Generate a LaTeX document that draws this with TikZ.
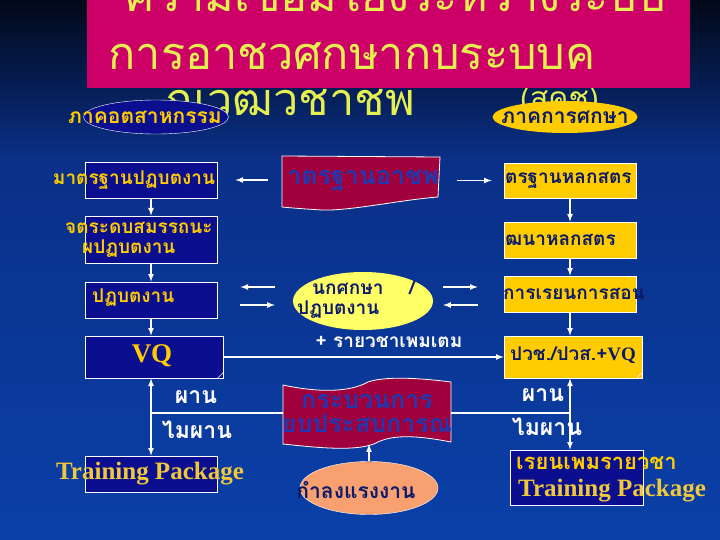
\documentclass[tikz,border=0pt]{standalone}
\usepackage{fontspec}
\setmainfont{Liberation Serif}
\newfontfamily\thaifont[Script=Thai]{Loma}
\usepackage{tikz}
\usetikzlibrary{positioning}
\usetikzlibrary{shapes.geometric,calc}
\usepackage{color}

\definecolor{bgtop}{HTML}{020818}
\definecolor{bgmid}{HTML}{0A3088}
\definecolor{bgbot}{HTML}{0A40A8}
\definecolor{titlepink}{HTML}{CC0066}
\definecolor{titleink}{HTML}{E4F050}
\definecolor{boxnavy}{HTML}{0B0E8E}
\definecolor{boxgold}{HTML}{FFCC00}
\definecolor{ink}{HTML}{0B1A6B}
\definecolor{flagred}{HTML}{A0003C}
\definecolor{flagink}{HTML}{2038B0}
\definecolor{paleyellow}{HTML}{FFFF66}
\definecolor{salmon}{HTML}{F8A070}
\definecolor{tpgold}{HTML}{F0C83C}

\tikzset{
  navybox/.style={draw=white,fill=boxnavy,line width=0.8pt,minimum width=132pt,minimum height=36pt,inner sep=0pt},
  goldbox/.style={draw=white,fill=boxgold,line width=0.8pt,minimum width=132pt,minimum height=36pt,inner sep=0pt},
  link/.style={draw=white,line width=1.6pt},
  titlelbl/.style={text=titleink,font=\thaifont\fontsize{45}{47}\selectfont,inner sep=0pt},
  goldlbl/.style={text=boxgold,font=\thaifont\bfseries\fontsize{19}{20}\selectfont,inner sep=0pt,align=left},
  inklbl/.style={text=ink,font=\thaifont\bfseries\fontsize{19}{20}\selectfont,inner sep=0pt,align=left},
  flaglbl/.style={text=flagink,font=\thaifont\bfseries\fontsize{25}{24}\selectfont,inner sep=0pt,align=left},
  whitelbl/.style={text=white,font=\thaifont\bfseries\fontsize{23}{24}\selectfont,inner sep=0pt},
  seriflbl/.style={font=\bfseries\fontsize{25}{27}\selectfont,inner sep=0pt}
}

\begin{document}
\begin{tikzpicture}[x=1pt,y=-1pt]
\useasboundingbox (0,0) rectangle (720,540);
\shade[top color=bgtop,bottom color=bgmid] (0,0) rectangle (720,160);
\shade[top color=bgmid,bottom color=bgbot] (0,160) rectangle (720,540);

% title (third line lies under the box)
\path
(415,116) node [titlelbl,anchor=base east] (t3) {ณวฒวชาชพ}
(520,109) node [titlelbl,anchor=base west,font=\thaifont\fontsize{30}{32}\selectfont] (t4) {(สคช)};
\fill[titlepink] (87,0) rectangle (690,88);
\path
(395,12) node [titlelbl,anchor=base] (t1) {ความเชอมโยงระหวางระบบ}
(352,70) node [titlelbl,anchor=base] (t2) {การอาชวศกษากบระบบค};

% heads of the two sides
\path
(156,117) node [ellipse,draw=white,fill=boxnavy,minimum width=145pt,minimum height=34pt] (ind) {}
(565,117) node [ellipse,fill=boxgold,minimum width=145pt,minimum height=32pt] (edu) {};
\node [goldlbl,font=\thaifont\bfseries\fontsize{21}{22}\selectfont] (indt) at (145,117) {ภาคอตสาหกรรม};
\node [inklbl,font=\thaifont\bfseries\fontsize{21}{22}\selectfont] (edut) at (565,117) {ภาคการศกษา};

% left column
\path
(151,180) node [navybox] (ps) {}
(151,239.5) node [navybox,minimum height=47pt] (cl) {}
(151,300) node [navybox] (wk) {}
(154,357) node [navybox,minimum width=138pt,minimum height=42pt] (vq) {}
(151,474) node [navybox] (tp) {};
\node [goldlbl] (pst) at (134,180) {มาตรฐานปฏบตงาน};
\node [goldlbl,anchor=west] (clt) at (65,239.5) {จตระดบสมรรถนะ\\\hspace*{17pt}ผปฏบตงาน};
\node [goldlbl,anchor=west] (wkt) at (92,298) {ปฏบตงาน};
\node [seriflbl,text=boxgold,font=\bfseries\fontsize{27}{29}\selectfont] (vqt) at (152,356) {VQ};
\node [seriflbl,text=tpgold] (tpt) at (150,474) {Training Package};
\draw [white,line width=0.6pt] ([xshift=-6pt]vq.south east) -- ([yshift=6pt]vq.south east);

% right column
\path
(570,180.5) node [goldbox,minimum height=35pt] (cs) {}
(570,240) node [goldbox] (cd) {}
(570,294) node [goldbox] (ls) {}
(573,357) node [goldbox,minimum width=138pt,minimum height=42pt] (dip) {}
(576.5,477.5) node [navybox,minimum width=133pt,minimum height=55pt] (tp2) {};
\node [inklbl,anchor=west] (cst) at (505,180.5) {ตรฐานหลกสตร};
\node [inklbl,anchor=west] (cdt) at (505,240) {ฒนาหลกสตร};
\node [inklbl,anchor=west] (lst) at (503,294) {การเรยนการสอน};
\node [inklbl,font=\thaifont\bfseries\fontsize{19}{21}\selectfont] (dipt) at (573,355) {ปวช./ปวส.+\rmfamily VQ};
\node [goldlbl,anchor=west,font=\thaifont\bfseries\fontsize{22}{24}\selectfont] (tp2t) at (516,463) {เรยนเพมรายวชา};
\node [seriflbl,text=tpgold,anchor=west] (tp2s) at (518,491) {Training Package};
\draw [white,line width=0.6pt] ([xshift=-6pt]dip.south east) -- ([yshift=6pt]dip.south east);

% middle
\filldraw [fill=flagred,draw=white,line width=0.8pt]
  (282,156) -- (440,157) -- (438,197) .. controls (400,200) and (350,211) .. (322,210)
  .. controls (305,209) and (292,208) .. (282,207) -- cycle;
\node [minimum width=158pt,minimum height=52pt,inner sep=0pt] (os) at (361,182) {};
\node [flaglbl] (ost) at (363,181) {าตรฐานอาชพ};

\node [ellipse,fill=paleyellow,minimum width=140pt,minimum height=58pt] (st) at (363,301) {};
\node [inklbl,anchor=west,font=\thaifont\bfseries\fontsize{19}{20}\selectfont] (stt) at (297,300) {\hspace*{15pt}นกศกษา\hspace{26pt}/\\ปฏบตงาน};
\node [whitelbl,font=\thaifont\bfseries\fontsize{19}{20}\selectfont] (add) at (389,342) {+ รายวชาเพมเตม};

\filldraw [fill=flagred,draw=white,line width=0.8pt]
  (283,385) .. controls (320,393) and (350,392) .. (368,382)
  .. controls (385,376) and (420,378) .. (451,382) -- (451,442)
  .. controls (420,436) and (395,434) .. (378,442)
  .. controls (360,452) and (320,448) .. (283,444) -- cycle;
\node [minimum width=168pt,minimum height=60pt,inner sep=0pt] (rp) at (367,414) {};
\node [flaglbl,align=center] (rpt) at (367,414) {กระบวนการ\\ยบประสบการณ};

\node [ellipse,draw=white,fill=salmon,minimum width=138pt,minimum height=53pt] (lf) at (369,488) {};
\node [inklbl,font=\thaifont\bfseries\fontsize{21}{22}\selectfont] (lft) at (356,490) {กำลงแรงงาน};

% connectors
\draw [link,-latex] (ps) -- (cl);
\draw [link,-latex] (cl) -- (wk);
\draw [link,-latex] (wk) -- (wk |- vq.north);
\draw [link,latex-latex] (vq.south -| tp) -- (tp);
\coordinate (j1) at (151,413);
\draw [link] (j1) -- (j1 -| rp.west);

\draw [link,-latex] (cs) -- (cd);
\draw [link,-latex] (cd) -- (ls);
\draw [link,-latex] (ls) -- (ls |- dip.north);
\draw [link,latex-latex] (dip.south -| ls) -- (tp2.north -| ls);
\coordinate (j2) at (570,413);
\draw [link] (j2 -| rp.east) -- (j2);

\draw [link,-latex,shorten <=14pt,shorten >=18pt] (ps.east -| os.west) -- (ps.east);
\draw [link,-latex,shorten <=17pt,shorten >=12pt] (cs.west -| os.east) -- (cs.west);

\draw [link,latex-,shorten <=23pt,shorten >=18pt] ([yshift=13pt]wk.east) -- ([yshift=13pt]wk.east -| st.west);
\draw [link,-latex,shorten <=23pt,shorten >=18pt] ([yshift=-5pt]wk.east) -- ([yshift=-5pt]wk.east -| st.west);
\draw [link,-latex,shorten <=10pt,shorten >=26pt] ([yshift=13pt]wk.east -| st.east) -- ([yshift=13pt]wk.east -| ls.west);
\draw [link,latex-,shorten <=10pt,shorten >=26pt] ([yshift=-5pt]wk.east -| st.east) -- ([yshift=-5pt]wk.east -| ls.west);

\draw [link,-latex] (vq) -- (dip);
\draw [link,-latex] (lf) -- (lf |- rp.south);

\node [whitelbl] (pass1) at (196,397) {ผาน};
\node [whitelbl] (fail1) at (197,430) {ไมผาน};
\node [whitelbl] (pass2) at (543,395) {ผาน};
\node [whitelbl] (fail2) at (547,427) {ไมผาน};
\end{tikzpicture}
\end{document}
